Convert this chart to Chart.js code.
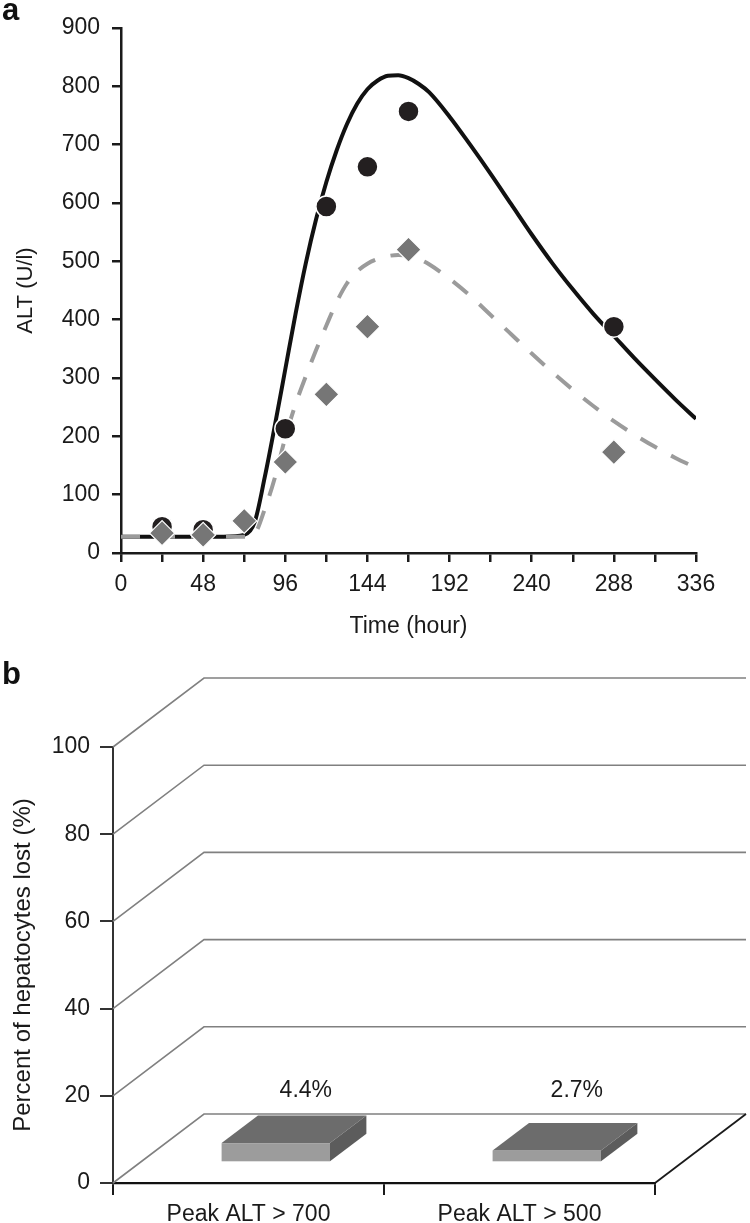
<!DOCTYPE html>
<html>
<head>
<meta charset="utf-8">
<script src="https://cdn.jsdelivr.net/npm/chart.js@4.4.1/dist/chart.umd.min.js"></script>
<style>
  html, body { margin: 0; padding: 0; background: #fff; }
  body { width: 750px; height: 1223px; position: relative; overflow: hidden; font-family: "Liberation Sans", Arial, sans-serif; }
  .panel { position: absolute; left: 0; width: 750px; }
  #wrapA { top: 0; height: 650px; }
  #wrapB { top: 650px; height: 573px; }
  .tag { position: absolute; left: 2px; font-weight: bold; font-size: 31px; line-height: 1; color: #111; }
</style>
</head>
<body>
<div class="panel" id="wrapA"><canvas id="chartA" width="750" height="650"></canvas></div>
<div class="panel" id="wrapB"><canvas id="chartB" width="750" height="573"></canvas></div>
<div class="tag" style="top:-6px">a</div>
<div class="tag" style="top:658px">b</div>

<script>
// ---------- panel a: ALT time course ----------
const fitHours = [0, 24, 48, 60, 72, 78, 84, 90, 96, 102, 108, 114, 120, 126, 132, 138, 144, 150, 156, 162, 168, 174, 180, 192, 204, 216, 228, 240, 252, 264, 276, 288, 300, 312, 324, 336];
const fitHigh  = [28, 28, 28, 28, 31, 52, 130, 220, 315, 410, 497, 572, 636, 690, 735, 770, 795, 810, 818, 819, 814, 804, 790, 748, 700, 650, 598, 546, 497, 452, 410, 372, 334, 298, 263, 230];
const fitLow   = [28, 28, 28, 28, 28, 33, 75, 130, 198, 255, 303, 348, 390, 430, 462, 483, 496, 504, 509, 511, 510, 504, 495, 470, 441, 408, 375, 342, 310, 280, 252, 226, 203, 182, 163, 146];

const obsHighHours = [24, 48, 96, 120, 144, 168, 288];
const obsHigh      = [45, 40, 213, 594, 662, 757, 388];
const obsLowHours  = [24, 48, 72, 96, 120, 144, 168, 288];
const obsLow       = [34, 31, 55, 156, 272, 388, 520, 173];

const timeTicks = { min: 0, max: 336, step: 24, labelEvery: 48 };
const altTicks  = { min: 0, max: 900, step: 100 };

// ---------- panel b: hepatocytes lost ----------
const groups  = ["Peak ALT > 700", "Peak ALT > 500"];
const lostPct = [4.4, 2.7];
const pctTicks = { min: 0, max: 100, step: 20 };

const FONT = '"Liberation Sans", Arial, Helvetica, sans-serif';
const INK = "#1a1a1a";
Chart.defaults.font.family = FONT;
Chart.defaults.color = INK;

const pts = (xs, ys) => xs.map((x, i) => ({ x, y: ys[i] }));

new Chart(document.getElementById("chartA"), {
  type: "scatter",
  data: {
    datasets: [
      { label: "obs low", data: pts(obsLowHours, obsLow), pointStyle: "rectRot", pointRadius: 12.5,
        backgroundColor: "#767676", borderColor: "#ffffff", borderWidth: 1.2 },
      { label: "obs high", data: pts(obsHighHours, obsHigh), pointStyle: "circle", pointRadius: 10.5,
        backgroundColor: "#231f20", borderColor: "#ffffff", borderWidth: 1.5 },
      { label: "fit low", data: pts(fitHours, fitLow), showLine: true, pointRadius: 0,
        borderColor: "#9b9b9b", borderWidth: 4, borderDash: [19, 16], cubicInterpolationMode: "monotone" },
      { label: "fit high", data: pts(fitHours, fitHigh), showLine: true, pointRadius: 0,
        borderColor: "#111111", borderWidth: 4, cubicInterpolationMode: "monotone" }
    ]
  },
  options: {
    responsive: false,
    animation: false,
    layout: { padding: { top: 28, right: 54, left: 0, bottom: 0 } },
    plugins: { legend: { display: false }, tooltip: { enabled: false } },
    scales: {
      x: {
        type: "linear", min: timeTicks.min, max: timeTicks.max,
        ticks: {
          stepSize: timeTicks.step, autoSkip: false, maxRotation: 0, padding: 9,
          font: { size: 23 }, color: INK,
          callback: v => (v % timeTicks.labelEvery === 0 ? v : "")
        },
        grid: { drawOnChartArea: false, tickLength: 9, color: INK, lineWidth: 2.5 },
        border: { color: INK, width: 2.5 },
        title: { display: true, text: "Time (hour)", font: { size: 23 }, color: INK, padding: { top: 0, bottom: 10 } },
        afterFit: s => { s.height = 97; }
      },
      y: {
        min: altTicks.min, max: altTicks.max,
        ticks: { stepSize: altTicks.step, padding: 12, font: { size: 23 }, color: INK },
        grid: { drawOnChartArea: false, tickLength: 9, color: INK, lineWidth: 2.5 },
        border: { color: INK, width: 2.5 },
        title: { display: true, text: "ALT (U/l)", font: { size: 22 }, color: INK, padding: { top: 13, bottom: 0 } },
        afterFit: s => { s.width = 121; }
      }
    }
  }
});

// pseudo-3D depth of the plot box (pixels)
const DEPTH_X = 91, DEPTH_Y = -69;

const box3d = {
  id: "box3d",
  beforeDatasetsDraw(chart) {
    const { ctx, chartArea: a, scales: { y } } = chart;
    ctx.save();
    ctx.strokeStyle = "#808080";
    ctx.lineWidth = 1.6;
    y.ticks.forEach(t => {
      const py = y.getPixelForValue(t.value);
      ctx.beginPath();
      ctx.moveTo(a.left, py);
      ctx.lineTo(a.left + DEPTH_X, py + DEPTH_Y);
      ctx.lineTo(a.right + DEPTH_X, py + DEPTH_Y);
      ctx.stroke();
    });
    const p0 = y.getPixelForValue(0);
    ctx.strokeStyle = INK;
    ctx.lineWidth = 1.8;
    ctx.beginPath();
    ctx.moveTo(a.right, p0);
    ctx.lineTo(a.right + DEPTH_X, p0 + DEPTH_Y);
    ctx.stroke();
    ctx.restore();
  },
  afterDatasetsDraw(chart) {
    const { ctx } = chart;
    const meta = chart.getDatasetMeta(0);
    const values = chart.data.datasets[0].data;
    const fx = 0.3 * DEPTH_X, fy = 0.3 * DEPTH_Y, dx = 0.4 * DEPTH_X, dy = 0.4 * DEPTH_Y;
    ctx.save();
    meta.data.forEach((bar, i) => {
      const { x, y, base, width } = bar.getProps(["x", "y", "base", "width"], true);
      const l = x - width / 2 + fx, r = x + width / 2 + fx;
      const t = y + fy, b = base + fy;
      // front face
      ctx.fillStyle = "#9c9c9c";
      ctx.fillRect(l, t, r - l, b - t);
      // top face
      ctx.fillStyle = "#6c6c6c";
      ctx.beginPath();
      ctx.moveTo(l, t); ctx.lineTo(r, t); ctx.lineTo(r + dx, t + dy); ctx.lineTo(l + dx, t + dy);
      ctx.closePath(); ctx.fill();
      // side face
      ctx.fillStyle = "#5c5c5c";
      ctx.beginPath();
      ctx.moveTo(r, t); ctx.lineTo(r + dx, t + dy); ctx.lineTo(r + dx, b + dy); ctx.lineTo(r, b);
      ctx.closePath(); ctx.fill();
      // value label
      ctx.fillStyle = INK;
      ctx.font = "23px " + FONT;
      ctx.textAlign = "center";
      ctx.textBaseline = "middle";
      ctx.fillText(values[i] + "%", x + 0.63 * DEPTH_X, base + DEPTH_Y - 22);
    });
    ctx.restore();
  }
};

new Chart(document.getElementById("chartB"), {
  type: "bar",
  data: {
    labels: groups,
    datasets: [{ data: lostPct, backgroundColor: "rgba(0,0,0,0)", borderWidth: 0,
                 barPercentage: 0.4, categoryPercentage: 1.0 }]
  },
  options: {
    responsive: false,
    animation: false,
    layout: { padding: { top: 97, right: 95, left: 0, bottom: 0 } },
    plugins: { legend: { display: false }, tooltip: { enabled: false } },
    scales: {
      x: {
        ticks: { padding: 6, font: { size: 23 }, color: INK, maxRotation: 0 },
        grid: { offset: true, drawOnChartArea: false, tickLength: 12, color: INK, lineWidth: 2 },
        border: { color: "#111", width: 2.2 },
        afterFit: s => { s.height = 40; }
      },
      y: {
        min: pctTicks.min, max: pctTicks.max,
        ticks: { stepSize: pctTicks.step, padding: 10, font: { size: 23 }, color: INK },
        grid: { drawOnChartArea: false, tickLength: 13, color: "#333", lineWidth: 2 },
        border: { color: "#333", width: 2 },
        title: { display: true, text: "Percent of hepatocytes lost (%)", font: { size: 24 }, color: INK, padding: { top: 9, bottom: 0 } },
        afterFit: s => { s.width = 113; }
      }
    }
  },
  plugins: [box3d]
});
</script>
</body>
</html>
